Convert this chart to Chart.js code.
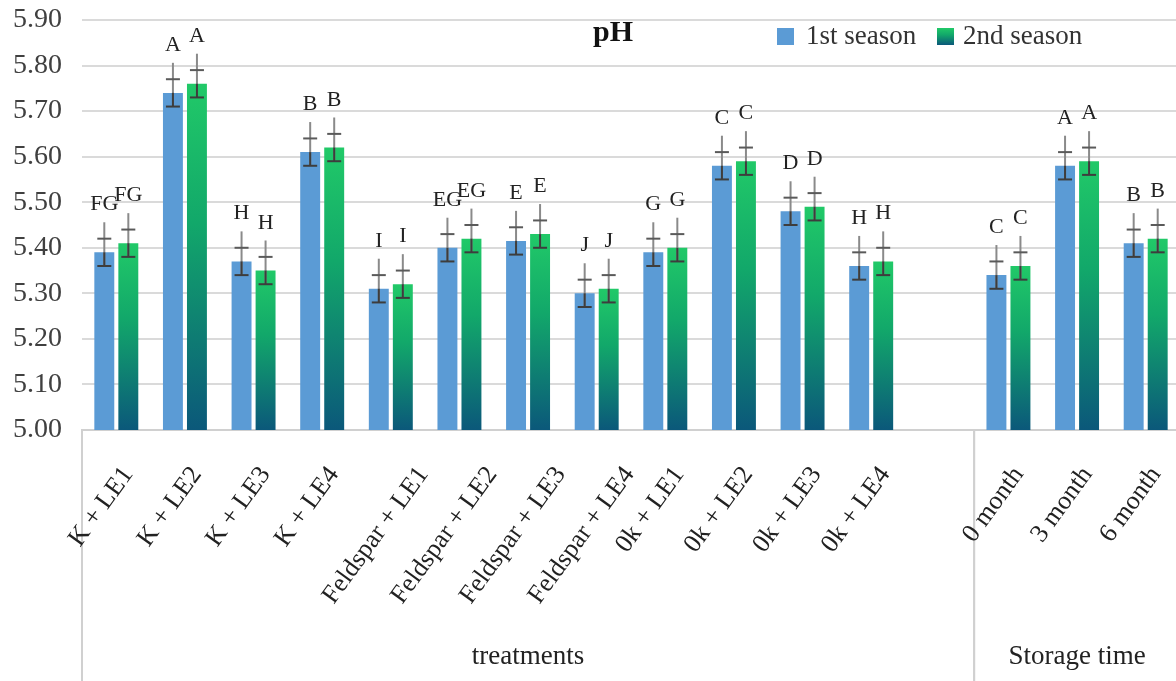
<!DOCTYPE html>
<html>
<head>
<meta charset="utf-8">
<script src="https://cdn.jsdelivr.net/npm/chart.js@4.4.1/dist/chart.umd.min.js"></script>
<style>
  html, body { margin: 0; padding: 0; background: #fff; overflow: hidden; }
  #wrap { position: absolute; left: 0; top: 0; width: 1184px; height: 681px; }
</style>
</head>
<body>
<div id="wrap"><canvas id="myChart" width="1184" height="681"></canvas></div>
<script>
// categories (index 12 is the empty gap between the two blocks)
const labels = [
  'K + LE1', 'K + LE2', 'K + LE3', 'K + LE4',
  'Feldspar + LE1', 'Feldspar + LE2', 'Feldspar + LE3', 'Feldspar + LE4',
  '0k + LE1', '0k + LE2', '0k + LE3', '0k + LE4',
  '',
  '0 month', '3 month', '6 month'
];

const season1 = [5.39, 5.74, 5.37, 5.61, 5.31, 5.40, 5.415, 5.30, 5.39, 5.58, 5.48, 5.36, null, 5.34, 5.58, 5.41];
const season2 = [5.41, 5.76, 5.35, 5.62, 5.32, 5.42, 5.43, 5.31, 5.40, 5.59, 5.49, 5.37, null, 5.36, 5.59, 5.42];

const err1 = [0.03, 0.03, 0.03, 0.03, 0.03, 0.03, 0.03, 0.03, 0.03, 0.03, 0.03, 0.03, null, 0.03, 0.03, 0.03];
const err2 = [0.03, 0.03, 0.03, 0.03, 0.03, 0.03, 0.03, 0.03, 0.03, 0.03, 0.03, 0.03, null, 0.03, 0.03, 0.03];

const letters1 = ['FG', 'A', 'H', 'B', 'I', 'EG', 'E', 'J', 'G', 'C', 'D', 'H', '', 'C', 'A', 'B'];
const letters2 = ['FG', 'A', 'H', 'B', 'I', 'EG', 'E', 'J', 'G', 'C', 'D', 'H', '', 'C', 'A', 'B'];

const yTicks = [5.00, 5.10, 5.20, 5.30, 5.40, 5.50, 5.60, 5.70, 5.80, 5.90];

const groups = [
  { name: 'treatments', from: -0.5, to: 12.5 },
  { name: 'Storage time', from: 12.5, to: 15.5 }
];

const serif = '"Liberation Serif", "DejaVu Serif", serif';
const blue = '#5b9bd5';

function greenGrad(c, top, bottom) {
  const g = c.createLinearGradient(0, top, 0, bottom);
  g.addColorStop(0, '#21c968');
  g.addColorStop(0.4, '#12a86a');
  g.addColorStop(1, '#0b587a');
  return g;
}

const greenFill = (ctx) => {
  const chart = ctx.chart;
  const area = chart.chartArea;
  if (!area || ctx.type !== 'data' || ctx.raw == null) return '#12a86a';
  const top = chart.scales.y.getPixelForValue(ctx.raw);
  return greenGrad(chart.ctx, top, area.bottom);
};

const extras = {
  id: 'extras',
  afterDatasetsDraw(chart) {
    const c = chart.ctx;
    const y = chart.scales.y;
    const sets = [[season1, err1, letters1], [season2, err2, letters2]];
    sets.forEach((s, di) => {
      const meta = chart.getDatasetMeta(di);
      s[0].forEach((v, i) => {
        if (v == null) return;
        const x = meta.data[i].x;
        const e = s[1][i];
        const yLo = y.getPixelForValue(v - e);
        const yHi = y.getPixelForValue(v + e);
        const yTop = y.getPixelForValue(v + e * 2.2);
        c.save();
        c.lineWidth = 2;
        c.strokeStyle = '#8a8a8a';
        c.beginPath(); c.moveTo(x, yTop); c.lineTo(x, yLo); c.stroke();
        c.strokeStyle = '#3d3d3d';
        c.beginPath(); c.moveTo(x, yLo); c.lineTo(x, y.getPixelForValue(v)); c.stroke();
        c.beginPath(); c.moveTo(x - 7, yLo); c.lineTo(x + 7, yLo); c.stroke();
        c.strokeStyle = '#5a5a5a';
        c.beginPath(); c.moveTo(x - 7, yHi); c.lineTo(x + 7, yHi); c.stroke();
        // significance letter
        c.fillStyle = '#222';
        c.font = '22px ' + serif;
        c.textAlign = 'center';
        c.textBaseline = 'middle';
        c.fillText(s[2][i], x, y.getPixelForValue(v + 0.105));
        c.restore();
      });
    });
  },
  afterDraw(chart) {
    const c = chart.ctx;
    const x = chart.scales.x;
    const area = chart.chartArea;
    const H = chart.height;
    c.save();
    // block separators below the axis
    c.strokeStyle = '#d0d0d0';
    c.lineWidth = 2;
    groups.forEach(g => {
      [g.from, g.to].forEach(b => {
        const px = x.getPixelForValue(b);
        c.beginPath(); c.moveTo(px, area.bottom); c.lineTo(px, H); c.stroke();
      });
    });
    // rotated category labels
    const ang = 54 * Math.PI / 180;
    c.fillStyle = '#222';
    c.font = '26px ' + serif;
    c.textAlign = 'center';
    c.textBaseline = 'middle';
    labels.forEach((lab, i) => {
      if (!lab) return;
      const w = c.measureText(lab).width;
      const cx = x.getPixelForValue(i) - 15;
      const cy = area.bottom + 40 + (w / 2) * Math.sin(ang);
      c.save();
      c.translate(cx, cy);
      c.rotate(-ang);
      c.fillText(lab, 0, 0);
      c.restore();
    });
    // block names
    c.font = '27px ' + serif;
    groups.forEach(g => {
      const mid = (x.getPixelForValue(g.from) + x.getPixelForValue(g.to)) / 2;
      c.fillText(g.name, mid, 657);
    });
    // title
    c.font = 'bold 30px ' + serif;
    c.fillStyle = '#111';
    c.fillText('pH', 613, 33);
    // legend
    c.font = '27px ' + serif;
    c.textAlign = 'left';
    c.fillStyle = blue;
    c.fillRect(777, 28, 17, 17);
    c.fillStyle = '#333';
    c.fillText('1st season', 806, 37);
    c.fillStyle = greenGrad(c, 28, 45);
    c.fillRect(937, 28, 17, 17);
    c.fillStyle = '#333';
    c.fillText('2nd season', 963, 37);
    c.restore();
  }
};

const config = {
  type: 'bar',
  data: {
    labels: labels,
    datasets: [
      { label: '1st season', data: season1, backgroundColor: blue },
      { label: '2nd season', data: season2, backgroundColor: greenFill }
    ]
  },
  options: {
    responsive: false,
    animation: false,
    devicePixelRatio: 1,
    categoryPercentage: 0.70,
    barPercentage: 0.83,
    layout: { padding: { top: 20, right: 4, left: 0, bottom: 0 } },
    plugins: {
      legend: { display: false },
      tooltip: { enabled: false }
    },
    scales: {
      x: {
        ticks: { display: false },
        grid: { display: false, drawTicks: false },
        border: { display: true, color: '#d0d0d0', width: 2 },
        afterFit: (s) => { s.height = 251; }
      },
      y: {
        min: 5.0,
        max: 5.9,
        afterBuildTicks: (s) => { s.ticks = yTicks.map(v => ({ value: v })); },
        ticks: {
          padding: 20,
          color: '#404040',
          font: { family: serif, size: 28 },
          callback: (v) => Number(v).toFixed(2)
        },
        grid: { color: '#dadada', lineWidth: 2, drawTicks: false },
        border: { display: false },
        afterFit: (s) => { s.width = 82; s.paddingTop = 0; s.paddingBottom = 0; }
      }
    }
  },
  plugins: [extras]
};

const myChart = new Chart(document.getElementById('myChart'), config);
</script>
</body>
</html>
